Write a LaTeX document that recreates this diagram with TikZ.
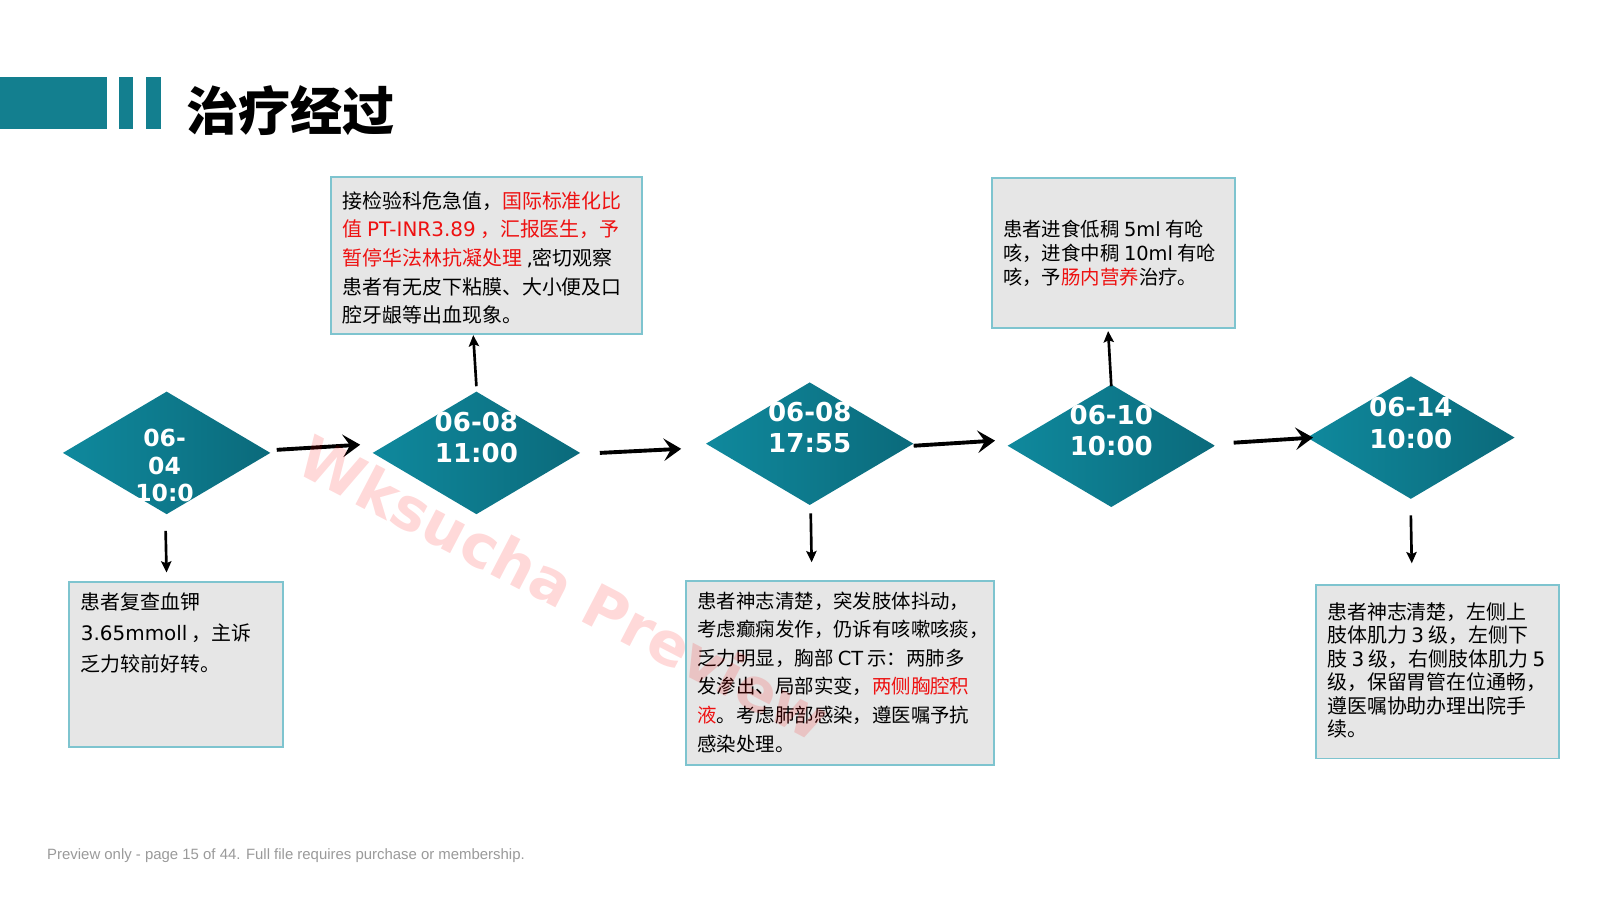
\documentclass[tikz,border=0pt]{standalone}
\usepackage{fontspec}
\setmainfont{Noto Sans CJK SC}
\newfontfamily\cjk{Noto Sans CJK SC}
\newfontfamily\dvs{DejaVu Sans}
\newfontfamily\libs{Liberation Sans}
\newcommand{\lat}[1]{{\dvs #1}}
\usetikzlibrary{shapes.geometric,arrows.meta,calc}
\definecolor{barteal}{HTML}{137F8F}
\definecolor{diaL}{HTML}{0F899D}
\definecolor{diaR}{HTML}{0B6A7B}
\definecolor{boxfill}{HTML}{E6E6E6}
\definecolor{boxline}{HTML}{7EC4CF}
\definecolor{hl}{HTML}{EE1111}
\definecolor{foot}{HTML}{9A9A9A}
\tikzset{
  box/.style={draw=boxline, line width=1.8pt, fill=boxfill, anchor=north west, inner sep=0pt},
  dia/.style={diamond, minimum width=203pt, minimum height=120pt, inner sep=0pt, left color=diaL, right color=diaR},
  datetxt/.style={anchor=north, align=center, text=white, inner sep=0pt, font=\dvs\bfseries\fontsize{25.5}{31}\selectfont},
  boxtxt/.style={anchor=north west, align=left, inner sep=0pt},
  harr/.style={line width=3.8pt, -{Stealth[length=17pt,width=22pt,inset=7pt]}},
  varr/.style={line width=2.6pt, -{Stealth[length=11pt,width=10pt,inset=2pt]}}
}
\begin{document}
\begin{tikzpicture}[x=1pt,y=-1pt]
\useasboundingbox (0,0) rectangle (1566,880.3);
\fill[white] (0,0) rectangle (1566,880.3);
% title bar
\fill[barteal] (0,75) rectangle (105,126);
\fill[barteal] (116,75) rectangle (130,126);
\fill[barteal] (143,75) rectangle (157,126);
\node[anchor=west, inner sep=0pt, font=\cjk\bfseries\fontsize{51}{51}\selectfont] (title) at (182,108) {治疗经过};
% diamonds
\node[dia] (d1) at (163,443) {};
\node[dia] (d2) at (466,443) {};
\node[dia] (d3) at (792,434) {};
\node[dia] (d4) at (1087,436) {};
\node[dia] (d5) at (1380,428) {};
\node[datetxt, font=\dvs\bfseries\fontsize{23}{27}\selectfont] (t1) at (161,419.6) {06-\\04\\10:0};
\node[datetxt] (t2) at (466,402.7) {06-08\\11:00};
\node[datetxt] (t3) at (792,392.7) {06-08\\17:55};
\node[datetxt] (t4) at (1087,395.7) {06-10\\10:00};
\node[datetxt] (t5) at (1380,388.7) {06-14\\10:00};
% boxes
\node[box, minimum width=209pt, minimum height=162pt] (b1) at (67,568) {};
\node[box, minimum width=304pt, minimum height=154pt] (b2) at (323,172) {};
\node[box, minimum width=238pt, minimum height=147pt] (b3) at (969,173) {};
\node[box, minimum width=301pt, minimum height=180pt] (b4) at (670,567) {};
\node[box, minimum width=238pt, minimum height=170pt] (b5) at (1286,571) {};
% box texts
\node[boxtxt, font=\cjk\fontsize{19.5}{30}\selectfont] (x1) at (79,580) {患者复查血钾\\\lat{3.65mmoll} ，主诉\\乏力较前好转。};
\node[boxtxt, font=\cjk\fontsize{19.5}{28}\selectfont] (x2) at (335,187) {接检验科危急值，\textcolor{hl}{国际标准化比}\\\textcolor{hl}{值 \lat{PT-INR3.89} ，汇报医生，予}\\\textcolor{hl}{暂停华法林抗凝处理} \lat{,}密切观察\\患者有无皮下粘膜、大小便及口\\腔牙龈等出血现象。};
\node[boxtxt, font=\cjk\fontsize{19}{23}\selectfont] (x3) at (981,215.5) {患者进食低稠 \lat{5ml} 有呛\\咳，进食中稠 \lat{10ml} 有呛\\咳，予\textcolor{hl}{肠内营养}治疗。};
\node[boxtxt, font=\cjk\fontsize{19}{28}\selectfont] (x4) at (682,578.5) {患者神志清楚，突发肢体抖动，\\考虑癫痫发作，仍诉有咳嗽咳痰，\\乏力明显，胸部 \lat{CT} 示：两肺多\\发渗出、局部实变，\textcolor{hl}{两侧胸腔积}\\\textcolor{hl}{液}。考虑肺部感染，遵医嘱予抗\\感染处理。};
\node[boxtxt, font=\cjk\fontsize{19.5}{23}\selectfont] (x5) at (1298,589.3) {患者神志清楚，左侧上\\肢体肌力 \lat{3} 级，左侧下\\肢 \lat{3} 级，右侧肢体肌力 \lat{5}\\级，保留胃管在位通畅，\\遵医嘱协助办理出院手\\续。};
% horizontal arrows
\draw[harr] ($(d1.east)+(6,-3)$) -- ($(d2.west)+(-12,-8)$);
\draw[harr] ($(d2.east)+(19,0)$) -- ($(d3.west)+(-24,5)$);
\draw[harr] ($(d3.east)+(0,2)$) -- ($(d4.west)+(-12,-5)$);
\draw[harr] ($(d4.east)+(18,-3)$) -- ($(d5.west)+(6,0)$);
% vertical arrows
\draw[varr] ($(d1.south)+(-1,16)$) -- ($(b1.north)+(-9.5,-8)$);
\draw[varr] ($(d2.north)+(0,-5)$) -- ($(b2.south)+(-13,0)$);
\draw[varr] ($(d3.south)+(1,8)$) -- ($(b4.north)+(-27.5,-17)$);
\draw[varr] ($(d4.north)+(0,2)$) -- ($(b3.south)+(-5,2)$);
\draw[varr] ($(d5.south)+(0,16)$) -- ($(b5.north)+(-25,-20)$);
% watermark
\node[rotate=-27.5, text=red, text opacity=0.15, inner sep=0pt, font=\dvs\bfseries\fontsize{58}{58}\selectfont] (wm) at (552,575) {Wksucha Preview};
% footer
\node[anchor=west, inner sep=0pt, text=foot, font=\libs\fontsize{14.6}{16}\selectfont] (ft) at (46,837) {Preview only - page 15 of 44. Full file requires purchase or membership.};
\end{tikzpicture}
\end{document}
